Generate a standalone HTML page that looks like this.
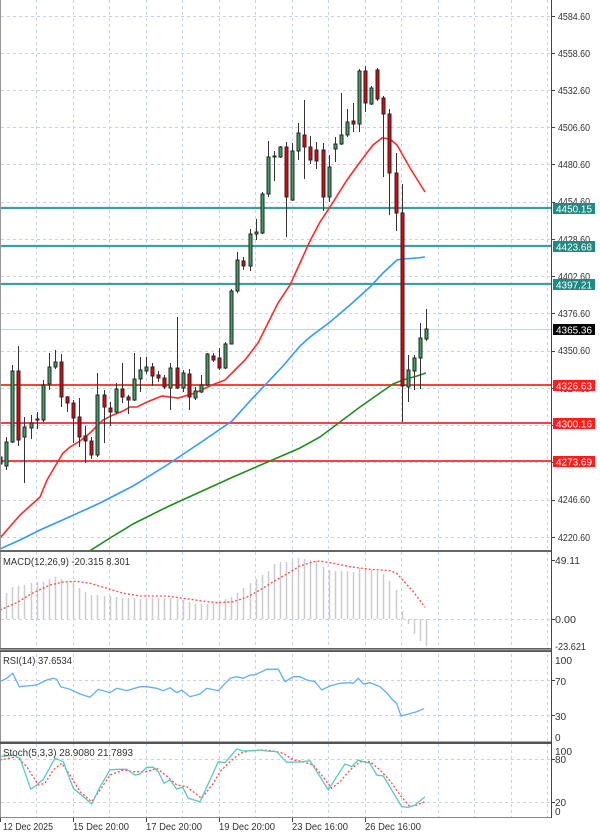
<!DOCTYPE html>
<html><head><meta charset="utf-8"><style>
html,body{margin:0;padding:0;background:#fff}
svg{display:block}
text{font-family:"Liberation Sans",sans-serif;font-size:10px}
</style></head><body>
<svg width="600" height="835" viewBox="0 0 600 835" xmlns="http://www.w3.org/2000/svg">
<rect width="600" height="835" fill="#fff"/>
<defs>
<clipPath id="cm"><rect x="1" y="0" width="550" height="550"/></clipPath>
<clipPath id="cmacd"><rect x="1" y="552" width="550" height="97"/></clipPath>
<clipPath id="crsi"><rect x="1" y="652" width="550" height="90"/></clipPath>
<clipPath id="cst"><rect x="1" y="744" width="550" height="73"/></clipPath>
</defs>

<!-- vertical grid -->
<g stroke="#c6d3e8" stroke-width="1" stroke-dasharray="3,3">
<path d="M36.5 0V817M73.5 0V817M109.5 0V817M146.5 0V817M182.5 0V817M219.5 0V817M255.5 0V817M292.5 0V817M328.5 0V817M365.5 0V817M401.5 0V817M438.5 0V817M474.5 0V817M511.5 0V817M547.5 0V817"/>
<path d="M1 16.5H551M1 53.5H551M1 90.5H551M1 127.5H551M1 164.5H551M1 202.5H551M1 239.5H551M1 276.5H551M1 313.5H551M1 351.5H551M1 388.5H551M1 425.5H551M1 462.5H551M1 500.5H551M1 537.5H551"/>
<path d="M1 619.5H551M1 680.5H551M1 715.5H551M1 759.5H551M1 802.5H551"/>
</g>

<path d="M1 329.5H551" stroke="#c9d2e0" stroke-width="1"/>

<g clip-path="url(#cm)">
<g stroke="#3f9f9f" stroke-width="2.2">
<path d="M1 208H551M1 246H551M1 284H551"/>
</g>
<g stroke="#ff2525" stroke-width="1.8">
<path d="M1 385H551M1 423H551M1 461H551"/>
</g>

<polyline fill="none" stroke="#1f8c1f" stroke-width="1.6" points="88,552 110,538 133,524 167,507 200,492 233,477 270,461 300,448 320,437 340,422 360,407 380,393 393,384 403,380 417,376 426,373"/>
<polyline fill="none" stroke="#3399ff" stroke-width="1.6" points="0,549 20,540 40,530 67,518 100,503 133,486 167,465 200,443 232,421 250,401 267,383 283,366 300,346 310,337 330,322 350,305 370,287 383,273 397,260 403,259 417,258 425,257"/>
<polyline fill="none" stroke="#ff2a2a" stroke-width="1.6" points="0,538 20,515 40,497 47,480 57,463 63,453 70,447 80,441 90,433 97,426 103,420 113,415 123,411 130,407 137,407 147,402 162,396 178,398 195,393 212,385 225,380 235,370 245,360 258,343 268,323 278,303 290,285 300,263 310,241 320,222 330,207 347,180 363,158 373,145 382,138 390,139 397,145 410,168 425,192"/>

<path stroke="#333" stroke-width="1" fill="none" d="M0.5 450V473M6.5 437V470M12.5 365V443M18.5 346V446M24.5 417V483M31.5 415V439M37.5 412V429M43.5 380V422M49.5 353V390M55.5 350V369M61.5 354V407M67.5 396V412M73.5 400V443M79.5 398V447M85.5 426V463M91.5 437V459M97.5 373V457M104.5 390V443M110.5 402V426M116.5 383V414M122.5 363V403M128.5 395V414M134.5 353V401M140.5 357V392M146.5 357V374M152.5 363V386M158.5 371V382M164.5 375V389M170.5 363V410M177.5 317V389M183.5 370V392M189.5 369V410M195.5 387V400M201.5 375V393M207.5 353V386M213.5 353V362M219.5 348V370M225.5 342V369M231.5 289V344M237.5 252V293M243.5 257V270M250.5 229V271M256.5 219V240M262.5 192V234M268.5 141V197M274.5 151V181M280.5 146V158M286.5 142V237M292.5 143V201M298.5 123V160M304.5 100V179M310.5 136V164M316.5 142V169M323.5 143V211M329.5 155V202M335.5 137V162M341.5 93V145M347.5 109V137M353.5 103V132M359.5 69V132M365.5 66V112M371.5 86V105M377.5 68V101M383.5 96V177M389.5 109V215M396.5 153V231M402.5 184V422M408.5 355V402M414.5 355V390M420.5 323V389M426.5 309V341"/>

<g fill="#3f9f63" stroke="#262626" stroke-width="1">
<rect x="5" y="442" width="3" height="24"/>
<rect x="11" y="371" width="3" height="71"/>
<rect x="23" y="427" width="3" height="10"/>
<rect x="30" y="423" width="3" height="5"/>
<rect x="36" y="419" width="3" height="1"/>
<rect x="42" y="385" width="3" height="35"/>
<rect x="48" y="367" width="3" height="17"/>
<rect x="54" y="362" width="3" height="5"/>
<rect x="96" y="395" width="3" height="60"/>
<rect x="115" y="389" width="3" height="23"/>
<rect x="133" y="379" width="3" height="21"/>
<rect x="139" y="370" width="3" height="9"/>
<rect x="145" y="367" width="3" height="4"/>
<rect x="169" y="368" width="3" height="20"/>
<rect x="182" y="373" width="3" height="15"/>
<rect x="194" y="391" width="3" height="7"/>
<rect x="200" y="385" width="3" height="7"/>
<rect x="206" y="354" width="3" height="31"/>
<rect x="224" y="344" width="3" height="24"/>
<rect x="230" y="291" width="3" height="53"/>
<rect x="236" y="260" width="3" height="31"/>
<rect x="249" y="234" width="3" height="32"/>
<rect x="255" y="232" width="3" height="2"/>
<rect x="261" y="194" width="3" height="39"/>
<rect x="267" y="157" width="3" height="37"/>
<rect x="273" y="156" width="3" height="1"/>
<rect x="279" y="147" width="3" height="10"/>
<rect x="291" y="151" width="3" height="49"/>
<rect x="297" y="133" width="3" height="18"/>
<rect x="328" y="167" width="3" height="30"/>
<rect x="334" y="144" width="3" height="5"/>
<rect x="340" y="135" width="3" height="9"/>
<rect x="346" y="122" width="3" height="13"/>
<rect x="358" y="71" width="3" height="53"/>
<rect x="370" y="88" width="3" height="16"/>
<rect x="407" y="370" width="3" height="17"/>
<rect x="413" y="358" width="3" height="13"/>
<rect x="419" y="338" width="3" height="20"/>
<rect x="425" y="329" width="3" height="10"/>
</g>
<g fill="#e8000a" stroke="#262626" stroke-width="1">
<rect x="-1" y="457" width="3" height="7"/>
<rect x="17" y="371" width="3" height="69"/>
<rect x="60" y="362" width="3" height="35"/>
<rect x="66" y="397" width="3" height="6"/>
<rect x="72" y="403" width="3" height="15"/>
<rect x="78" y="417" width="3" height="20"/>
<rect x="84" y="436" width="3" height="5"/>
<rect x="90" y="441" width="3" height="14"/>
<rect x="103" y="395" width="3" height="12"/>
<rect x="109" y="408" width="3" height="4"/>
<rect x="121" y="389" width="3" height="8"/>
<rect x="127" y="397" width="3" height="3"/>
<rect x="151" y="367" width="3" height="9"/>
<rect x="157" y="375" width="3" height="3"/>
<rect x="163" y="378" width="3" height="9"/>
<rect x="176" y="368" width="3" height="20"/>
<rect x="188" y="374" width="3" height="23"/>
<rect x="212" y="356" width="3" height="4"/>
<rect x="218" y="358" width="3" height="10"/>
<rect x="242" y="261" width="3" height="5"/>
<rect x="285" y="147" width="3" height="50"/>
<rect x="303" y="135" width="3" height="12"/>
<rect x="309" y="147" width="3" height="13"/>
<rect x="315" y="150" width="3" height="11"/>
<rect x="322" y="150" width="3" height="47"/>
<rect x="352" y="121" width="3" height="3"/>
<rect x="364" y="71" width="3" height="32"/>
<rect x="376" y="70" width="3" height="29"/>
<rect x="382" y="98" width="3" height="16"/>
<rect x="388" y="114" width="3" height="59"/>
<rect x="395" y="173" width="3" height="40"/>
<rect x="401" y="213" width="3" height="173"/>
</g>
</g>

<!-- MACD -->
<g clip-path="url(#cmacd)">
<path stroke="#cccccc" stroke-width="1.5" fill="none" d="M0.5 619V599M6.5 619V593M12.5 619V587M18.5 619V586M24.5 619V585M31.5 619V583M37.5 619V582M43.5 619V582M49.5 619V579M55.5 619V577M61.5 619V579M67.5 619V582M73.5 619V583M79.5 619V588M85.5 619V592M91.5 619V595M97.5 619V595M104.5 619V596M110.5 619V596M116.5 619V597M122.5 619V598M128.5 619V598M134.5 619V598M140.5 619V599M146.5 619V598M152.5 619V598M158.5 619V598M164.5 619V598M170.5 619V598M177.5 619V599M183.5 619V600M189.5 619V602M195.5 619V604M201.5 619V604M207.5 619V604M213.5 619V603M219.5 619V602M225.5 619V599M231.5 619V597M237.5 619V593M243.5 619V588M250.5 619V583M256.5 619V579M262.5 619V575M268.5 619V571M274.5 619V564M280.5 619V562M286.5 619V562M292.5 619V561M298.5 619V558M304.5 619V559M310.5 619V560M316.5 619V561M323.5 619V567M329.5 619V570M335.5 619V571M341.5 619V571M347.5 619V571M353.5 619V572M359.5 619V568M365.5 619V568M371.5 619V570M377.5 619V571M383.5 619V574M389.5 619V581M396.5 619V590M402.5 619V611M408.5 619V624M414.5 619V634M420.5 619V641M426.5 619V646"/>
<polyline fill="none" stroke="#ff4a4a" stroke-width="1.3" stroke-dasharray="2,2" points="0,610 16.7,602.7 33.3,592.7 50,585 63.3,582 76.7,581.3 90,583.3 106.7,588.3 123.3,593.3 140,596 166.7,596 183.3,598.3 200,600.7 216.7,602.7 233.3,601.7 246.7,597.3 260,590 273.3,581.7 286.7,574 300,566 313.3,561.7 320,561 330,562.7 350,566.7 370,569.3 390,570.7 396.7,573.3 403.3,580.7 413.3,591.7 425,607.3"/>
</g>
<text x="3" y="565" fill="#333" textLength="127" lengthAdjust="spacingAndGlyphs">MACD(12,26,9) -20.315 8.301</text>

<!-- RSI -->
<g clip-path="url(#crsi)">
<polyline fill="none" stroke="#62acff" stroke-width="1.3" points="0,681.7 6.7,678.3 12.7,673.3 19.3,686.7 26.7,686 36.7,685 46.7,680 53.3,678.3 56.7,679.3 60.7,686.7 70,689.3 80,694 90,697.3 98.3,689.3 110,692.7 116.7,688.3 126.7,690.7 140,686.7 146.7,686.7 156.7,688.3 163.3,690.7 170,687.7 176.7,692.7 181.7,690 190,696.7 200,694 206.7,688.3 218.3,690.7 230,678.3 236.7,676.7 243.3,678.3 250,675 255,675 266.7,669.3 278.3,669.3 285,681.7 293.3,676.7 300,676.7 306.7,680 315,681.7 321.7,690 330,686 340,683.3 350,682.7 353.3,683.3 358.3,678.3 363.3,684 370,682.7 380,686.7 386.7,692.7 391.7,699 396.7,703.3 401,716 408.3,714 416.7,711.7 424,708.7"/>
</g>
<text x="3" y="664" fill="#333" textLength="69" lengthAdjust="spacingAndGlyphs">RSI(14) 37.6534</text>

<!-- Stoch -->
<g clip-path="url(#cst)">
<polyline fill="none" stroke="#ff4a4a" stroke-width="1.3" stroke-dasharray="2,2" points="0,760 16.7,756.7 26.7,766.7 38.3,785 45,783.3 53.3,770 61.7,763.3 70,775 80,791.7 91.7,801.7 100,790 110,775 123.3,770 133.3,771.7 146.7,771.7 156.7,768.3 166.7,776 176.7,785 186.7,786.7 201.7,798.3 213.3,783.3 220,771.7 230,761.7 240,753.3 250,750.7 263.3,750 273.3,751 283.3,753.3 293.3,760 300,761 313.3,765 323.3,777.3 331.7,788.3 340,781.7 350,770 360,761.7 370,761.7 380,770 390,780.7 400,795 410,806.7 416.7,805 425,801.7"/>
<polyline fill="none" stroke="#5cc9bf" stroke-width="1.3" points="0,756.7 13.3,755 20,758.3 30.7,789 36.7,785 43.3,779.3 55,758.3 63.3,761.7 73.3,788.3 83.3,796.7 91.7,804 100,786.7 110,770 116.7,769.3 126.7,769.3 135,775 140,774 146.7,767.3 153.3,767.3 158.3,771.7 164,783.3 170,780 176.7,789 182.7,787.3 188.3,798.3 200,801.7 210,780 218.3,761.7 225,762.7 236.7,749 243.3,751 253.3,750.7 260,750 266.7,751 276.7,751.7 286.7,762.3 300,762 310,760.7 320,776.7 328.3,790 336.7,776.7 345,764 351.7,766.7 358.3,760 363.3,761.7 370,763.3 376.7,775 383.3,776 391.7,790 401.7,806.7 408.3,807.3 415,805 425,796.7"/>
</g>
<text x="3" y="756" fill="#333" textLength="130" lengthAdjust="spacingAndGlyphs">Stoch(5,3,3) 28.9080 21.7893</text>

<!-- borders / separators -->
<path d="M0.5 0V818" stroke="#999" stroke-width="1"/>
<rect x="0" y="550" width="552" height="2" fill="#666"/>
<rect x="0" y="648" width="552" height="4" fill="#555"/>
<rect x="0" y="648.8" width="552" height="1.6" fill="#999"/>
<rect x="0" y="741.5" width="552" height="2.5" fill="#555"/>
<path d="M0 817.5H552" stroke="#888" stroke-width="1"/>
<path d="M551.5 0V818" stroke="#444" stroke-width="1"/>

<path stroke="#444" stroke-width="1" d="M552 16.5h3M552 53.5h3M552 90.5h3M552 127.5h3M552 164.5h3M552 202.5h3M552 239.5h3M552 276.5h3M552 313.5h3M552 351.5h3M552 388.5h3M552 425.5h3M552 462.5h3M552 500.5h3M552 537.5h3M552 560.5h3M552 619.5h3M552 680.5h3M552 715.5h3M552 759.5h3M552 802.5h3"/>

<path stroke="#444" stroke-width="1" d="M0.5 818v4M73.5 818v4M146.5 818v4M219.5 818v4M292.5 818v4M365.5 818v4"/>

<g fill="#333">
<text x="558" y="20" textLength="32" lengthAdjust="spacingAndGlyphs">4584.60</text>
<text x="558" y="57" textLength="32" lengthAdjust="spacingAndGlyphs">4558.60</text>
<text x="558" y="94" textLength="32" lengthAdjust="spacingAndGlyphs">4532.60</text>
<text x="558" y="131" textLength="32" lengthAdjust="spacingAndGlyphs">4506.60</text>
<text x="558" y="168" textLength="32" lengthAdjust="spacingAndGlyphs">4480.60</text>
<text x="558" y="205" textLength="32" lengthAdjust="spacingAndGlyphs">4454.60</text>
<text x="558" y="243" textLength="32" lengthAdjust="spacingAndGlyphs">4428.60</text>
<text x="558" y="280" textLength="32" lengthAdjust="spacingAndGlyphs">4402.60</text>
<text x="558" y="317" textLength="32" lengthAdjust="spacingAndGlyphs">4376.60</text>
<text x="558" y="354" textLength="32" lengthAdjust="spacingAndGlyphs">4350.60</text>
<text x="558" y="392" textLength="32" lengthAdjust="spacingAndGlyphs">4324.60</text>
<text x="558" y="429" textLength="32" lengthAdjust="spacingAndGlyphs">4298.60</text>
<text x="558" y="466" textLength="32" lengthAdjust="spacingAndGlyphs">4272.60</text>
<text x="558" y="503" textLength="32" lengthAdjust="spacingAndGlyphs">4246.60</text>
<text x="558" y="541" textLength="32" lengthAdjust="spacingAndGlyphs">4220.60</text>
</g>

<g>
<rect x="553" y="203" width="42" height="11" fill="#1f8a82"/>
<rect x="553" y="241" width="42" height="11" fill="#1f8a82"/>
<rect x="553" y="279" width="42" height="11" fill="#1f8a82"/>
<rect x="553" y="324" width="42" height="11" fill="#000"/>
<rect x="553" y="380" width="42" height="11" fill="#ff1c1c"/>
<rect x="553" y="418" width="42" height="11" fill="#ff1c1c"/>
<rect x="553" y="456" width="42" height="11" fill="#ff1c1c"/>
</g>
<g fill="#fff">
<text x="556" y="212.5" textLength="36" lengthAdjust="spacingAndGlyphs">4450.15</text>
<text x="556" y="250.5" textLength="36" lengthAdjust="spacingAndGlyphs">4423.68</text>
<text x="556" y="288.5" textLength="36" lengthAdjust="spacingAndGlyphs">4397.21</text>
<text x="556" y="333.5" textLength="36" lengthAdjust="spacingAndGlyphs">4365.36</text>
<text x="556" y="389.5" textLength="36" lengthAdjust="spacingAndGlyphs">4326.63</text>
<text x="556" y="427.5" textLength="36" lengthAdjust="spacingAndGlyphs">4300.16</text>
<text x="556" y="465.5" textLength="36" lengthAdjust="spacingAndGlyphs">4273.69</text>
</g>

<g fill="#333">
<text x="555" y="564" textLength="25" lengthAdjust="spacingAndGlyphs">49.11</text>
<text x="555" y="623" textLength="21" lengthAdjust="spacingAndGlyphs">0.00</text>
<text x="555" y="650" textLength="31" lengthAdjust="spacingAndGlyphs">-23.621</text>
<text x="555" y="664" textLength="17" lengthAdjust="spacingAndGlyphs">100</text>
<text x="555" y="685">70</text>
<text x="555" y="720">30</text>
<text x="555" y="741">0</text>
<text x="555" y="755" textLength="17" lengthAdjust="spacingAndGlyphs">100</text>
<text x="555" y="763">80</text>
<text x="555" y="806">20</text>
<text x="555" y="815">0</text>
</g>

<g fill="#333">
<text x="3" y="830" textLength="50" lengthAdjust="spacingAndGlyphs">12 Dec 2025</text>
<text x="73" y="830" textLength="56" lengthAdjust="spacingAndGlyphs">15 Dec 20:00</text>
<text x="146" y="830" textLength="56" lengthAdjust="spacingAndGlyphs">17 Dec 20:00</text>
<text x="219" y="830" textLength="56" lengthAdjust="spacingAndGlyphs">19 Dec 20:00</text>
<text x="292" y="830" textLength="56" lengthAdjust="spacingAndGlyphs">23 Dec 16:00</text>
<text x="365" y="830" textLength="56" lengthAdjust="spacingAndGlyphs">26 Dec 16:00</text>
</g>
</svg>
</body></html>
